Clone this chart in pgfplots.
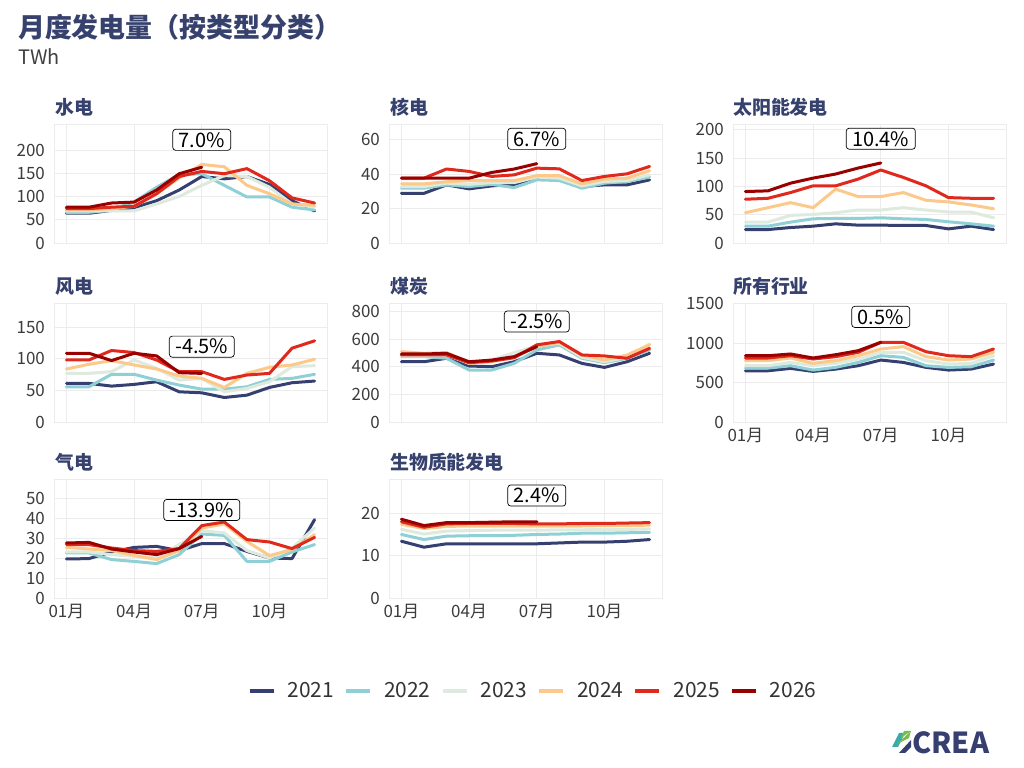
\documentclass[border=0pt]{standalone}
\usepackage{fontspec}
\setmainfont{Noto Sans CJK SC}
\usepackage{pgfplots}
\usepackage{pgfplotstable}
\pgfplotsset{compat=1.18}

\definecolor{c21}{RGB}{53,64,112}
\definecolor{c22}{RGB}{143,208,214}
\definecolor{c23}{RGB}{222,234,221}
\definecolor{c24}{RGB}{253,201,138}
\definecolor{c25}{RGB}{224,41,28}
\definecolor{c26}{RGB}{153,0,0}
\definecolor{titleblue}{RGB}{54,65,110}
\definecolor{gridgray}{RGB}{236,236,236}
\definecolor{ticktext}{RGB}{60,60,60}
\definecolor{creagreen}{RGB}{120,190,70}
\definecolor{createal}{RGB}{60,170,170}

\pgfplotstableread{
m y21 y22 y23 y24 y25 y26
1 64 66 69 71 74 77
2 64 66 69 71 74 77
3 70 71 69 74 77 86
4 76 88 69 79 79 88
5 91 120 84 106 106 114
6 114 147 100 140 143 149
7 143 149 124 169 154 163
8 138 124 145 164 149 nan
9 143 99 143 124 160 nan
10 126 99 120 106 134 nan
11 91 77 84 84 97 nan
12 69 71 77 81 86 nan
}\hydro

\pgfplotstableread{
m y21 y22 y23 y24 y25 y26
1 28.8 31.8 32.7 34.3 37.6 37.6
2 28.8 31.8 32.7 34.3 37.6 37.6
3 33.7 33.7 34.7 35.5 42.9 37.6
4 31.4 32.7 34.0 36.2 41.5 37.6
5 33.1 34.0 35.0 36.2 38.6 40.9
6 34.0 32.1 35.0 36.2 39.5 42.9
7 37.6 36.6 38.2 39.0 43.4 46.0
8 37.0 36.2 37.6 39.0 43.0 nan
9 32.7 31.8 33.1 34.3 36.2 nan
10 33.7 34.7 35.7 37.0 38.6 nan
11 33.7 35.7 36.2 37.6 40.1 nan
12 36.6 38.2 39.5 41.9 44.4 nan
}\nuclear

\pgfplotstableread{
m y21 y22 y23 y24 y25 y26
1 23.7 29.7 36.8 53.4 77.2 90.8
2 23.7 29.7 36.8 62.3 78.9 92.0
3 27.3 36.8 48.7 71.2 89.0 105.6
4 29.7 42.7 50.4 62.3 100.9 114.5
5 33.8 43.3 53.4 95.0 100.9 121.7
6 31.5 43.3 58.2 81.9 112.8 132.3
7 31.5 44.5 58.2 81.9 128.8 141.2
8 30.9 42.7 62.3 89.0 115.7 nan
9 30.9 41.5 58.2 75.4 100.9 nan
10 24.9 37.4 54.6 72.4 80.1 nan
11 29.7 33.8 54.6 67.1 78.9 nan
12 23.7 29.7 44.5 60.5 78.9 nan
}\solar

\pgfplotstableread{
m y21 y22 y23 y24 y25 y26
1 61.0 55.6 76.8 83.7 98.0 108.6
2 61.0 55.6 76.8 91.1 98.0 108.6
3 56.7 75.3 79.5 97.0 112.9 97.0
4 59.4 75.3 98.0 90.1 109.7 108.6
5 63.6 66.2 84.8 83.7 98.0 104.4
6 47.7 58.3 66.2 72.6 79.5 77.9
7 46.1 51.9 68.9 68.9 79.5 76.8
8 38.7 51.9 47.7 54.6 67.3 nan
9 42.4 55.6 53.0 76.8 74.2 nan
10 54.6 67.3 63.6 86.4 76.8 nan
11 62.0 68.9 87.4 90.1 116.6 nan
12 64.7 75.3 89.0 99.1 128.2 nan
}\wind

\pgfplotstableread{
m y21 y22 y23 y24 y25 y26
1 436 473 478 509 485 492
2 436 473 478 497 485 492
3 461 461 485 502 485 497
4 405 376 424 424 429 436
5 400 376 448 436 441 448
6 436 424 502 468 465 473
7 497 521 548 545 558 545
8 485 558 570 575 582 nan
9 424 461 468 485 485 nan
10 395 429 436 448 478 nan
11 436 461 468 485 461 nan
12 497 521 565 558 533 nan
}\coal

\pgfplotstableread{
m y21 y22 y23 y24 y25 y26
1 650 684 714 778 812 841
2 650 684 714 778 812 841
3 680 714 756 812 841 863
4 642 659 714 744 799 812
5 671 693 744 778 829 854
6 714 756 799 841 884 905
7 786 841 884 926 1011 1011
8 756 820 884 956 1011 nan
9 693 714 778 829 892 nan
10 659 693 735 786 841 nan
11 671 701 744 799 829 nan
12 735 786 841 884 926 nan
}\total

\pgfplotstableread{
m y21 y22 y23 y24 y25 y26
1 19.5 22.5 23.0 25.3 26.7 27.5
2 19.7 22.5 23.0 24.5 26.7 27.8
3 23.0 19.2 21.7 23.7 25.0 24.5
4 25.3 18.3 20.8 21.3 23.7 23.0
5 25.8 17.2 20.0 19.2 23.3 21.7
6 23.7 21.7 26.7 23.7 24.7 24.7
7 27.2 32.0 33.7 35.0 36.2 30.8
8 27.2 31.3 32.5 37.0 38.0 nan
9 23.3 18.3 23.7 28.3 29.2 nan
10 20.0 18.3 20.0 21.2 28.0 nan
11 19.7 23.0 25.0 24.2 24.7 nan
12 39.2 26.7 35.0 31.7 30.3 nan
}\gas

\pgfplotstableread{
m y21 y22 y23 y24 y25 y26
1 13.4 15.0 16.2 17.4 18.0 18.6
2 12.0 13.8 15.1 16.4 16.7 17.1
3 12.8 14.6 15.8 16.9 17.5 17.8
4 12.8 14.7 15.9 17.0 17.6 17.8
5 12.8 14.7 16.0 17.0 17.6 17.9
6 12.8 14.8 16.0 17.0 17.6 18.0
7 12.8 15.0 16.0 17.0 17.5 18.0
8 13.0 15.1 16.1 17.0 17.5 nan
9 13.2 15.3 16.1 17.0 17.6 nan
10 13.2 15.3 16.2 17.1 17.6 nan
11 13.4 15.4 16.2 17.1 17.7 nan
12 13.8 15.5 16.3 17.2 17.8 nan
}\biomass

\newcommand\yearlines[1]{%
  \addplot[c21] table[x=m,y=y21]{#1};
  \addplot[c22] table[x=m,y=y22]{#1};
  \addplot[c23] table[x=m,y=y23]{#1};
  \addplot[c24] table[x=m,y=y24]{#1};
  \addplot[c25] table[x=m,y=y25]{#1};
  \addplot[c26] table[x=m,y=y26]{#1};
}

\pgfplotsset{
  panel/.style={
    scale only axis, width=273bp, height=119bp,
    anchor=south west,
    xmin=0.45, xmax=12.55, ymin=0,
    xtick={1,4,7,10}, xticklabels={},
    grid=major, major grid style={color=gridgray, line width=0.9bp},
    axis line style={color=gridgray, line width=0.9bp},
    major tick length=0pt,
    tick label style={font=\fontsize{17}{17}\selectfont, text=ticktext},
    yticklabel style={anchor=east, inner sep=0pt, xshift=-9bp},
    xticklabel style={anchor=north, inner sep=0pt, yshift=-6bp},
    /pgf/number format/assume math mode=true,
    /pgf/number format/1000 sep={},
    every axis plot/.append style={line width=3bp, line join=round, line cap=round, mark=none},
  },
  xlab/.style={xticklabels={01月,04月,07月,10月}},
}
\tikzset{
  pct/.style={draw=black, fill=white, rounded corners=3bp, line width=0.7bp,
    inner xsep=6bp, inner ysep=3bp, font=\fontsize{20}{20}\selectfont, text=black},
  strip/.style={anchor=base west, inner sep=0pt, font=\bfseries\fontsize{19}{19}\selectfont, text=titleblue},
}

\begin{document}
\begin{tikzpicture}
\path[use as bounding box, fill=white] (0,0) rectangle (1024bp,768bp);

\node[anchor=base west, inner sep=0pt, font=\bfseries\fontsize{27}{27}\selectfont, text=titleblue] at (18bp,730bp) {月度发电量（按类型分类）};
\node[anchor=base west, inner sep=0pt, font=\fontsize{20}{20}\selectfont, text=black!75] at (18bp,703bp) {TWh};

% Row 1
\begin{axis}[panel, at={(54bp,525bp)}, ymax=256, ytick={0,50,100,150,200}]
\yearlines{\hydro}
\node[pct] at (axis cs:7,222) {7.0\%};
\end{axis}
\node[strip] at (55bp,653.5bp) {水电};

\begin{axis}[panel, at={(389bp,525bp)}, ymax=69, ytick={0,20,40,60}]
\yearlines{\nuclear}
\node[pct] at (axis cs:7,60.4) {6.7\%};
\end{axis}
\node[strip] at (390bp,653.5bp) {核电};

\begin{axis}[panel, at={(733bp,525bp)}, ymax=210, ytick={0,50,100,150,200}]
\yearlines{\solar}
\node[pct] at (axis cs:7,184) {10.4\%};
\end{axis}
\node[strip] at (733bp,653.5bp) {太阳能发电};

% Row 2
\begin{axis}[panel, at={(54bp,346bp)}, ymax=188, ytick={0,50,100,150}]
\yearlines{\wind}
\node[pct] at (axis cs:7,119) {-4.5\%};
\end{axis}
\node[strip] at (55bp,474.5bp) {风电};

\begin{axis}[panel, at={(389bp,346bp)}, ymax=861, ytick={0,200,400,600,800}]
\yearlines{\coal}
\node[pct] at (axis cs:7,727) {-2.5\%};
\end{axis}
\node[strip] at (390bp,474.5bp) {煤炭};

\begin{axis}[panel, xlab, at={(733bp,346bp)}, ymax=1510, ytick={0,500,1000,1500}]
\yearlines{\total}
\node[pct] at (axis cs:7,1334) {0.5\%};
\end{axis}
\node[strip] at (733bp,474.5bp) {所有行业};

% Row 3
\begin{axis}[panel, xlab, at={(54bp,170bp)}, ymax=59.5, ytick={0,10,20,30,40,50}]
\yearlines{\gas}
\node[pct] at (axis cs:7,44) {-13.9\%};
\end{axis}
\node[strip] at (55bp,298.5bp) {气电};

\begin{axis}[panel, xlab, at={(389bp,170bp)}, ymax=28.1, ytick={0,10,20},
  legend columns=6,
  legend image code/.code={\draw[#1, line width=4bp, line cap=butt] (0bp,0bp) -- (24bp,0bp);},
  legend style={at={(0.524,-0.78)}, anchor=center, draw=none, fill=none,
    font=\fontsize{21}{21}\selectfont, text=black!80,
    nodes={inner sep=0pt},
    /tikz/every odd column/.append style={column sep=12bp},
    /tikz/every even column/.append style={column sep=10bp}}]
\yearlines{\biomass}
\node[pct] at (axis cs:7,24.2) {2.4\%};
\legend{2021,2022,2023,2024,2025,2026}
\end{axis}
\node[strip] at (390bp,298.5bp) {生物质能发电};

% CREA logo
\fill[createal] (892bp,21bp) -- (898bp,21bp) -- (905bp,35bp) -- (899bp,35bp) -- cycle;
\fill[creagreen] (897bp,24bp) -- (911bp,37bp) -- (909bp,30bp) -- cycle;
\fill[c21] (899bp,15bp) -- (911bp,28bp) -- (911bp,21bp) -- (905bp,15bp) -- cycle;
\fill[creagreen] (901bp,30bp) -- (911bp,37bp) -- (904bp,37bp) -- cycle;
\node[anchor=base west, inner sep=0pt, font=\bfseries\fontsize{29}{29}\selectfont, text=c21] at (912bp,15bp) {CREA};
\end{tikzpicture}
\end{document}
